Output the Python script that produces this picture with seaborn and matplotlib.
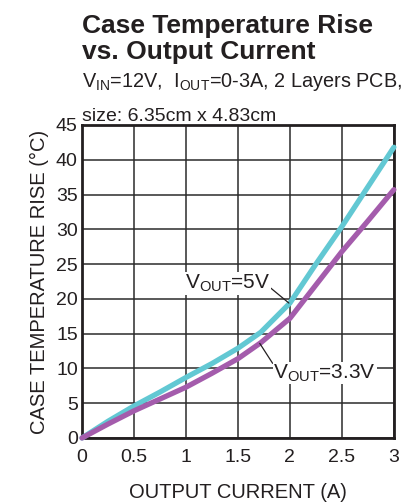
import matplotlib
matplotlib.use('Agg')
import matplotlib.pyplot as plt
import seaborn as sns
import numpy as np
import pandas as pd

# values
current = [0, 0.25, 0.5, 0.75, 1.0, 1.25, 1.5, 1.72, 2.0, 2.25, 2.5, 2.75, 3.0]
rise_5v = [0, 2.4, 4.6, 6.6, 8.7, 10.7, 12.9, 15.2, 19.4, 25.0, 30.4, 36.1, 41.8]
rise_3v3 = [0, 2.0, 3.9, 5.6, 7.3, 9.3, 11.4, 13.7, 17.2, 22.0, 26.8, 31.2, 35.7]
series = ['5V', '3.3V']
colors = {'5V': '#62c8d3', '3.3V': '#a45cac'}

x_ticks = [0, 0.5, 1, 1.5, 2, 2.5, 3]
x_ticklabels = ['0', '0.5', '1', '1.5', '2', '2.5', '3']
y_ticks = [0, 5, 10, 15, 20, 25, 30, 35, 40, 45]

df = pd.DataFrame({
    'current': current * 2,
    'rise': rise_5v + rise_3v3,
    'vout': [series[0]] * len(current) + [series[1]] * len(current),
})

sns.set_style('white')
plt.rcParams['font.family'] = ['Liberation Sans', 'DejaVu Sans']
plt.rcParams['mathtext.fontset'] = 'custom'
plt.rcParams['mathtext.rm'] = 'Liberation Sans'

fig = plt.figure(figsize=(4.09, 5.04), dpi=100)
ax = fig.add_axes([0.2005, 0.131, 0.7625, 0.621])

sns.lineplot(data=df, x='current', y='rise', hue='vout', palette=colors,
             hue_order=series, linewidth=3.8, ax=ax, legend=False,
             sort=False, clip_on=False, zorder=5)

ax.set_xlim(0, 3)
ax.set_ylim(0, 45)
ax.set_xticks(x_ticks)
ax.set_xticklabels(x_ticklabels)
ax.set_yticks(y_ticks)
ax.tick_params(axis='both', length=0, labelsize=14, colors='#231f20')
ax.tick_params(axis='x', pad=8)
ax.tick_params(axis='y', pad=3)
ax.grid(True, color='#2b2b2b', linewidth=1.1)
ax.set_axisbelow(True)
for s in ax.spines.values():
    s.set_color('#231f20')
    s.set_linewidth(2.0)
    s.set_visible(True)

ax.set_xlabel('OUTPUT CURRENT (A)', fontsize=14.5, color='#231f20', labelpad=12)
ax.set_ylabel('CASE TEMPERATURE RISE (°C)', fontsize=14.5, color='#231f20', labelpad=5)

# curve labels with leader lines
box = dict(facecolor='white', edgecolor='none', pad=0.5)
ax.annotate(r'V$_{\mathregular{OUT}}$=5V', xy=(1.99, 19.4), xytext=(0.99, 21.5),
            fontsize=15, color='#231f20', ha='left', va='baseline', bbox=box,
            arrowprops=dict(arrowstyle='-', color='#231f20', lw=0.9,
                            shrinkA=0, shrinkB=0, relpos=(1.0, 0.3)),
            zorder=6)
ax.annotate(r'V$_{\mathregular{OUT}}$=3.3V', xy=(1.71, 13.6), xytext=(1.84, 8.6),
            fontsize=15, color='#231f20', ha='left', va='baseline', bbox=box,
            arrowprops=dict(arrowstyle='-', color='#231f20', lw=0.9,
                            shrinkA=0, shrinkB=0, relpos=(0.0, 0.9)),
            zorder=6)

fig.text(0.2005, 0.935, 'Case Temperature Rise', fontsize=19, fontweight='bold', color='#231f20')
fig.text(0.2005, 0.883, 'vs. Output Current', fontsize=19, fontweight='bold', color='#231f20')
fig.text(0.2005, 0.828, r'V$_{\mathregular{IN}}$=12V,  I$_{\mathregular{OUT}}$=0-3A, 2 Layers PCB,',
         fontsize=14.3, color='#231f20')
fig.text(0.2005, 0.76, 'size: 6.35cm x 4.83cm', fontsize=14, color='#231f20')

fig.savefig('out.png', dpi=100, facecolor='white')
